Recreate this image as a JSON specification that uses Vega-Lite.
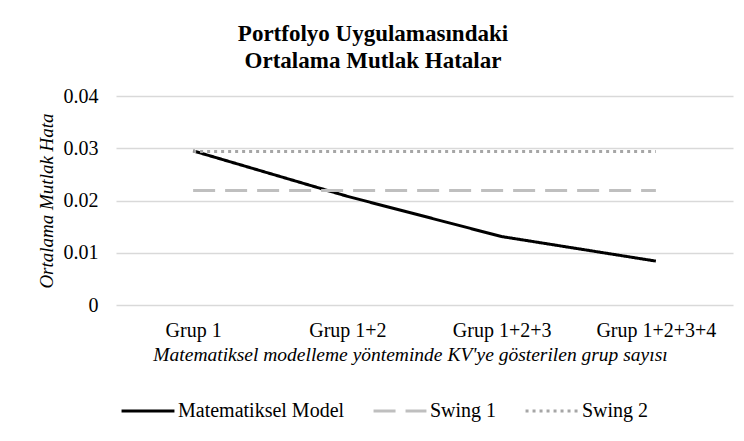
{
  "$schema": "https://vega.github.io/schema/vega-lite/v6.json",
  "width": 617,
  "height": 209,
  "autosize": {"type": "none"},
  "padding": {"left": 116, "top": 96, "right": 11, "bottom": 136},
  "background": "white",
  "title": {
    "text": ["Portfolyo Uygulamasındaki", "Ortalama Mutlak Hatalar"],
    "font": "Liberation Serif",
    "fontSize": 23,
    "fontWeight": "bold",
    "color": "#000000",
    "anchor": "middle",
    "frame": "bounds",
    "dx": -12,
    "offset": 13,
    "lineHeight": 27
  },
  "data": {
    "values": [
      {"grup": "Grup 1", "seri": "Matematiksel Model", "hata": 0.0295},
      {"grup": "Grup 1+2", "seri": "Matematiksel Model", "hata": 0.0208},
      {"grup": "Grup 1+2+3", "seri": "Matematiksel Model", "hata": 0.0131},
      {"grup": "Grup 1+2+3+4", "seri": "Matematiksel Model", "hata": 0.0084},
      {"grup": "Grup 1", "seri": "Swing 1", "hata": 0.0219},
      {"grup": "Grup 1+2", "seri": "Swing 1", "hata": 0.0219},
      {"grup": "Grup 1+2+3", "seri": "Swing 1", "hata": 0.0219},
      {"grup": "Grup 1+2+3+4", "seri": "Swing 1", "hata": 0.0219},
      {"grup": "Grup 1", "seri": "Swing 2", "hata": 0.0294},
      {"grup": "Grup 1+2", "seri": "Swing 2", "hata": 0.0294},
      {"grup": "Grup 1+2+3", "seri": "Swing 2", "hata": 0.0294},
      {"grup": "Grup 1+2+3+4", "seri": "Swing 2", "hata": 0.0294}
    ]
  },
  "mark": {"type": "line", "strokeWidth": 3, "strokeCap": "butt"},
  "encoding": {
    "x": {
      "field": "grup",
      "type": "ordinal",
      "sort": ["Grup 1", "Grup 1+2", "Grup 1+2+3", "Grup 1+2+3+4"],
      "scale": {"type": "point", "padding": 0.5},
      "axis": {
        "title": "Matematiksel modelleme yönteminde KV'ye gösterilen grup sayısı",
        "titleFont": "Liberation Serif",
        "titleFontSize": 19.5,
        "titleFontStyle": "italic",
        "titleFontWeight": "normal",
        "titleColor": "#000000",
        "titlePadding": 5,
        "titleX": 294,
        "labelFont": "Liberation Serif",
        "labelFontSize": 20,
        "labelColor": "#000000",
        "labelAngle": 0,
        "labelPadding": 15,
        "ticks": false,
        "domain": false,
        "grid": false
      }
    },
    "y": {
      "field": "hata",
      "type": "quantitative",
      "scale": {"domain": [0, 0.04], "nice": false},
      "axis": {
        "values": [0, 0.01, 0.02, 0.03, 0.04],
        "format": "~g",
        "title": "Ortalama Mutlak Hata",
        "titleFont": "Liberation Serif",
        "titleFontSize": 19,
        "titleFontStyle": "italic",
        "titleFontWeight": "normal",
        "titleColor": "#000000",
        "titlePadding": 7,
        "labelFont": "Liberation Serif",
        "labelFontSize": 20,
        "labelColor": "#000000",
        "labelPadding": 18,
        "ticks": false,
        "domain": false,
        "grid": true,
        "gridColor": "#D9D9D9",
        "gridWidth": 1.5
      }
    },
    "color": {
      "field": "seri",
      "type": "nominal",
      "scale": {
        "domain": ["Matematiksel Model", "Swing 1", "Swing 2"],
        "range": ["#000000", "#BFBFBF", "#A6A6A6"]
      },
      "legend": {
        "title": null,
        "orient": "none",
        "legendX": 4,
        "legendY": 287,
        "direction": "horizontal",
        "symbolType": "stroke",
        "symbolSize": 2800,
        "symbolStrokeWidth": 3,
        "labelFont": "Liberation Serif",
        "labelFontSize": 20,
        "labelColor": "#000000",
        "labelOffset": 2,
        "labelLimit": 400,
        "columnPadding": 22
      }
    },
    "strokeDash": {
      "field": "seri",
      "type": "nominal",
      "scale": {
        "domain": ["Matematiksel Model", "Swing 1", "Swing 2"],
        "range": [[1, 0], [22, 10], [3, 4]]
      },
      "legend": null
    }
  },
  "config": {
    "view": {"stroke": null},
    "font": "Liberation Serif"
  }
}
